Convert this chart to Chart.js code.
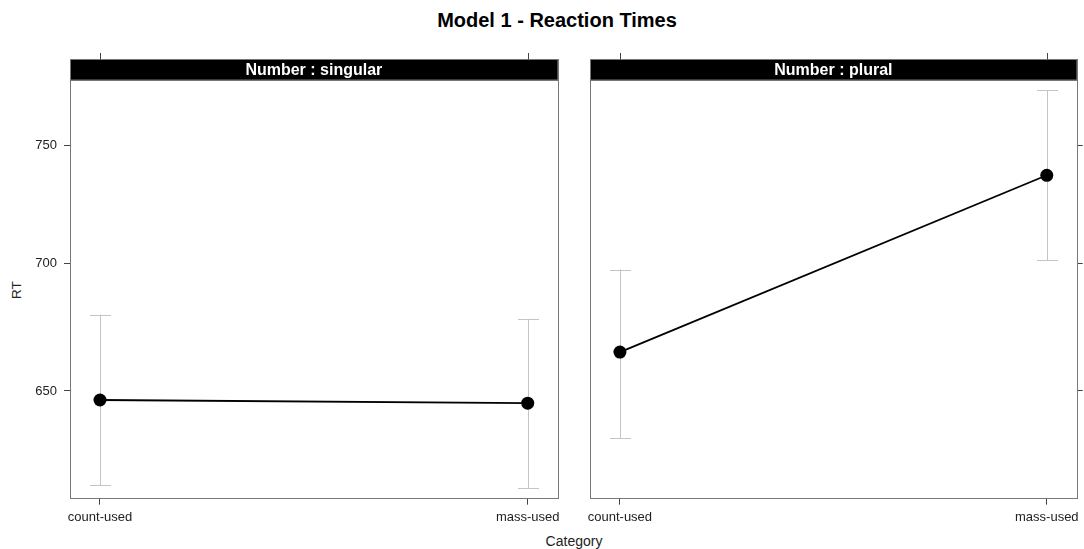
<!DOCTYPE html>
<html>
<head>
<meta charset="utf-8">
<script src="https://cdn.jsdelivr.net/npm/chart.js@4"></script>
<style>
  html, body { margin:0; padding:0; background:#fff; }
  body { width:1084px; height:549px; position:relative; overflow:hidden; font-family:"Liberation Sans", Arial, Helvetica, sans-serif; }
  canvas { position:absolute; left:0; top:0; }
  .txt { position:absolute; color:#000; white-space:nowrap; }
</style>
</head>
<body>
<div class="txt" id="title" style="left:557px; top:20px; transform:translate(-50%,-50%); font-weight:bold; font-size:20px;">Model 1 - Reaction Times</div>
<div class="txt" style="left:574px; top:541px; transform:translate(-50%,-50%); font-size:14px; color:#222;">Category</div>
<div class="txt" style="left:16px; top:290px; transform:translate(-50%,-50%) rotate(-90deg); font-size:13.5px; color:#222;">RT</div>
<canvas id="c1" width="1084" height="549"></canvas>
<canvas id="c2" width="1084" height="549"></canvas>
<script>
// ---- data ----
const categories = ['count-used', 'mass-used'];
const panelNames = ['Number : singular', 'Number : plural'];
const rtSingular = [646.6, 645.4];
const lowerSingular = [615.3, 614.2];
const upperSingular = [679.6, 677.9];
const rtPlural = [664.9, 737.1];
const lowerPlural = [632.5, 701.5];
const upperPlural = [697.7, 774.7];
const yTicks = [650, 700, 750];
const yMin = 610.8, yMax = 779.2;

const FONT = '"Liberation Sans", Arial, Helvetica, sans-serif';

const panelPlugin = {
  id: 'panel',
  beforeDatasetsDraw(chart, args, opts) {
    const ctx = chart.ctx, xs = chart.scales.x, ys = chart.scales.y;
    ctx.save();
    ctx.strokeStyle = '#c4c4c4';
    ctx.lineWidth = 1;
    opts.lower.forEach((lo, i) => {
      const x = Math.round(xs.getPixelForValue(i)) + 0.5;
      const yl = ys.getPixelForValue(lo), yu = ys.getPixelForValue(opts.upper[i]);
      ctx.beginPath();
      ctx.moveTo(x, yl); ctx.lineTo(x, yu);
      ctx.moveTo(x - 10.5, Math.round(yl) + 0.5); ctx.lineTo(x + 10.5, Math.round(yl) + 0.5);
      ctx.moveTo(x - 10.5, Math.round(yu) + 0.5); ctx.lineTo(x + 10.5, Math.round(yu) + 0.5);
      ctx.stroke();
    });
    ctx.restore();
  },
  afterDraw(chart, args, opts) {
    const ctx = chart.ctx, ca = chart.chartArea, xs = chart.scales.x;
    const stripTop = 59.5;
    ctx.save();
    // strip
    ctx.fillStyle = '#000';
    ctx.fillRect(ca.left, stripTop, ca.right - ca.left, ca.top - stripTop);
    ctx.strokeStyle = '#777';
    ctx.lineWidth = 1;
    ctx.strokeRect(Math.round(ca.left) + 0.5, stripTop, Math.round(ca.right - ca.left), ca.top - stripTop);
    ctx.fillStyle = '#fff';
    ctx.font = 'bold 16px ' + FONT;
    ctx.textAlign = 'center';
    ctx.textBaseline = 'middle';
    ctx.fillText(opts.name, (ca.left + ca.right) / 2, (stripTop + ca.top) / 2 + 0.5);
    // panel box
    ctx.strokeStyle = '#777';
    ctx.strokeRect(Math.round(ca.left) + 0.5, Math.round(ca.top) + 0.5, Math.round(ca.right - ca.left), Math.round(ca.bottom - ca.top));
    // top ticks
    ctx.strokeStyle = '#444';
    ctx.beginPath();
    categories.forEach((c, i) => {
      const x = Math.round(xs.getPixelForValue(i)) + 0.5;
      ctx.moveTo(x, 53); ctx.lineTo(x, stripTop);
    });
    ctx.stroke();
    ctx.restore();
  }
};

function makeChart(id, values, lower, upper, name, side) {
  const left = side === 'left';
  return new Chart(document.getElementById(id), {
    type: 'line',
    data: {
      datasets: [{
        data: values.map((v, i) => ({ x: i, y: v })),
        borderColor: '#000',
        borderWidth: 1.8,
        pointRadius: 6.5,
        pointBackgroundColor: '#000',
        pointBorderColor: '#000',
        pointBorderWidth: 0,
        tension: 0,
        clip: false
      }]
    },
    options: {
      responsive: false,
      animation: false,
      devicePixelRatio: 1,
      layout: { padding: left ? { left: 0, right: 1084 - 557.7, top: 80, bottom: 0 } : { left: 590, right: 0, top: 80, bottom: 0 } },
      plugins: {
        legend: { display: false },
        tooltip: { enabled: false },
        panel: { lower: lower, upper: upper, name: name }
      },
      scales: {
        x: {
          type: 'linear',
          min: -0.0701, max: 1.0701,
          afterBuildTicks: s => { s.ticks = categories.map((c, i) => ({ value: i })); },
          afterFit: s => { s.height = 549 - 497.7; },
          ticks: { callback: v => categories[v], color: '#222', font: { family: FONT, size: 13 }, padding: 5, maxRotation: 0, autoSkip: false },
          grid: { drawOnChartArea: false, tickLength: 7, color: '#444' },
          border: { display: false }
        },
        y: {
          type: 'logarithmic',
          position: left ? 'left' : 'right',
          min: yMin, max: yMax,
          afterBuildTicks: s => { s.ticks = yTicks.map(v => ({ value: v })); },
          afterFit: s => { s.width = left ? 70 : 1084 - 1077.3; },
          ticks: { display: left, callback: v => String(v), color: '#222', font: { family: FONT, size: 13 }, padding: 7 },
          grid: { drawOnChartArea: false, tickLength: 6, color: '#444' },
          border: { display: false }
        }
      }
    },
    plugins: [panelPlugin]
  });
}

makeChart('c1', rtSingular, lowerSingular, upperSingular, panelNames[0], 'left');
makeChart('c2', rtPlural, lowerPlural, upperPlural, panelNames[1], 'right');
</script>
</body>
</html>
